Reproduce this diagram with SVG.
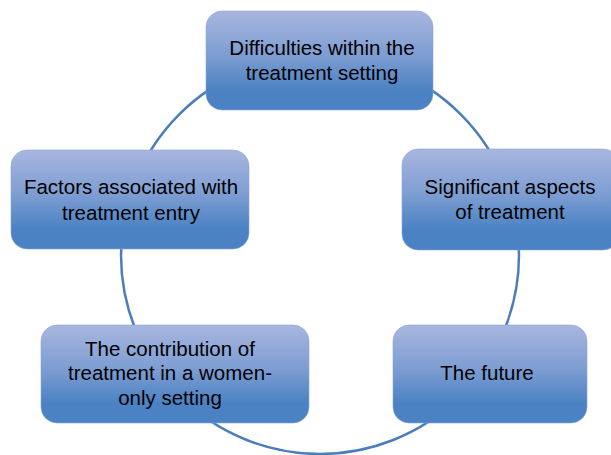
<svg xmlns="http://www.w3.org/2000/svg" width="611" height="455" viewBox="0 0 611 455">
<defs>
<linearGradient id="g" x1="0" y1="0" x2="0" y2="1">
<stop offset="0" stop-color="#a8b6df"/>
<stop offset="0.45" stop-color="#7d9dd2"/>
<stop offset="0.8" stop-color="#4a82c3"/>
<stop offset="1" stop-color="#4a82c3"/>
</linearGradient>
<style>
.box{fill:url(#g);stroke:#8aa4d6;stroke-width:0.6}
.t{font-family:"Liberation Sans",Arial,sans-serif;font-size:20.5px;fill:#000;text-anchor:middle}
.c{fill:none;stroke:#4a7ebb;stroke-width:2.5}
</style>
</defs>
<rect width="611" height="455" fill="#fff"/>
<g id="connectors">
<circle class="c" cx="320" cy="255" r="199"/>
</g>
<g id="n1">
<rect class="box" x="206" y="11" width="227" height="99" rx="16"/>
<text class="t" x="322" y="55">Difficulties within the</text>
<text class="t" x="322" y="80">treatment setting</text>
</g>
<g id="n2">
<rect class="box" x="402" y="149" width="217" height="101" rx="16"/>
<text class="t" x="510" y="194">Significant aspects</text>
<text class="t" x="510" y="219">of treatment</text>
</g>
<g id="n3">
<rect class="box" x="393" y="325" width="194" height="98" rx="16"/>
<text class="t" x="487" y="380">The future</text>
</g>
<g id="n4">
<rect class="box" x="41" y="325" width="268" height="98" rx="16"/>
<text class="t" x="170" y="356">The contribution of</text>
<text class="t" x="170" y="380">treatment in a women-</text>
<text class="t" x="170" y="405">only setting</text>
</g>
<g id="n5">
<rect class="box" x="11" y="150" width="238" height="99" rx="16"/>
<text class="t" x="131" y="194">Factors associated with</text>
<text class="t" x="131" y="220">treatment entry</text>
</g>
</svg>
